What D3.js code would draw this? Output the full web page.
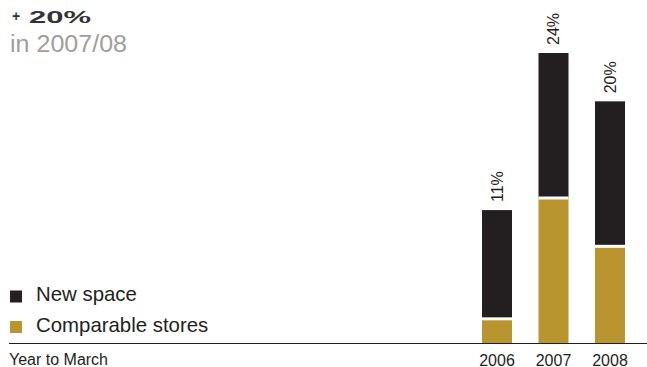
<!DOCTYPE html>
<html>
<head>
<meta charset="utf-8">
<script src="https://cdn.jsdelivr.net/npm/d3@7"></script>
<style>
  html, body { margin: 0; padding: 0; background: #fff; }
  svg { display: block; }
  text { font-family: "Liberation Sans", Arial, Helvetica, sans-serif; }
</style>
</head>
<body>
<script>
// Sales growth, year to March: split into comparable stores and new space
const years = ["2006", "2007", "2008"];
const comparableStores = [2, 12, 8];
const newSpace = [9, 12, 12];
const totalLabels = ["11%", "24%", "20%"];

const W = 647, H = 367;
const ink = "#231f20";
const gold = "#b9952f";

const svg = d3.select("body").append("svg")
  .attr("width", W).attr("height", H);

const x = d3.scaleBand()
  .domain(years)
  .range([468.75, 638.25])
  .paddingInner(0.469)
  .paddingOuter(0.2345);

const y = d3.scaleLinear().domain([0, 24]).range([343, 53]);

const rows = years.map((yr, i) => ({
  year: yr,
  comp: comparableStores[i],
  space: newSpace[i],
  label: totalLabels[i]
}));

// stacked bars
const g = svg.append("g");
g.selectAll("rect.comp").data(rows).join("rect")
  .attr("class", "comp")
  .attr("x", d => x(d.year))
  .attr("width", x.bandwidth())
  .attr("y", d => y(d.comp))
  .attr("height", d => y(0) - y(d.comp))
  .attr("fill", gold);

g.selectAll("rect.space").data(rows).join("rect")
  .attr("class", "space")
  .attr("x", d => x(d.year))
  .attr("width", x.bandwidth())
  .attr("y", d => y(d.comp + d.space))
  .attr("height", d => y(d.comp) - y(d.comp + d.space))
  .attr("fill", ink);

// white divider between the two segments
g.selectAll("line.sep").data(rows).join("line")
  .attr("class", "sep")
  .attr("x1", d => x(d.year))
  .attr("x2", d => x(d.year) + x.bandwidth())
  .attr("y1", d => y(d.comp))
  .attr("y2", d => y(d.comp))
  .attr("stroke", "#fff")
  .attr("stroke-width", 3);

// rotated total labels above each bar
g.selectAll("text.total").data(rows).join("text")
  .attr("class", "total")
  .attr("transform", d =>
    `translate(${x(d.year) + x.bandwidth() / 2},${y(d.comp + d.space) - 8}) rotate(-90)`)
  .attr("dy", "0.36em")
  .attr("font-size", 16)
  .attr("fill", ink)
  .text(d => d.label);

// baseline
svg.append("line")
  .attr("x1", 9).attr("x2", W)
  .attr("y1", y(0) + 0.5).attr("y2", y(0) + 0.5)
  .attr("stroke", ink).attr("stroke-width", 1.2);

// year axis
const axis = svg.append("g")
  .attr("transform", `translate(0,${y(0)})`)
  .call(d3.axisBottom(x).tickSize(0).tickPadding(0));
axis.select(".domain").remove();
axis.selectAll("text")
  .attr("y", 22.5)
  .attr("dy", 0)
  .attr("font-size", 16)
  .attr("font-family", "Liberation Sans, Arial, sans-serif")
  .attr("fill", ink);

svg.append("text")
  .attr("x", 9).attr("y", 365)
  .attr("font-size", 16)
  .attr("fill", ink)
  .text("Year to March");

// legend
const legend = [
  { name: "New space", color: ink },
  { name: "Comparable stores", color: gold }
];
const lg = svg.selectAll("g.legend").data(legend).join("g")
  .attr("class", "legend")
  .attr("transform", (d, i) => `translate(10,${290.5 + i * 30.5})`);
lg.append("rect")
  .attr("width", 12).attr("height", 12)
  .attr("fill", d => d.color);
lg.append("text")
  .attr("x", 26).attr("y", 10.8)
  .attr("font-size", 20.4)
  .attr("fill", ink)
  .text(d => d.name);

// headline
svg.append("text")
  .attr("x", 12).attr("y", 21)
  .attr("font-family", "DejaVu Serif, serif")
  .attr("font-weight", "bold")
  .attr("font-size", 14)
  .attr("fill", "#333")
  .text("+");
svg.append("text")
  .attr("x", 29).attr("y", 22.5)
  .attr("font-family", "DejaVu Serif, serif")
  .attr("font-weight", "bold")
  .attr("font-size", 16.5)
  .attr("fill", "#333")
  .attr("textLength", 62)
  .attr("lengthAdjust", "spacingAndGlyphs")
  .text("20%");
svg.append("text")
  .attr("x", 10).attr("y", 52)
  .attr("font-size", 23.5)
  .attr("fill", "#a39d99")
  .attr("textLength", 117)
  .attr("lengthAdjust", "spacingAndGlyphs")
  .text("in 2007/08");
</script>
</body>
</html>
